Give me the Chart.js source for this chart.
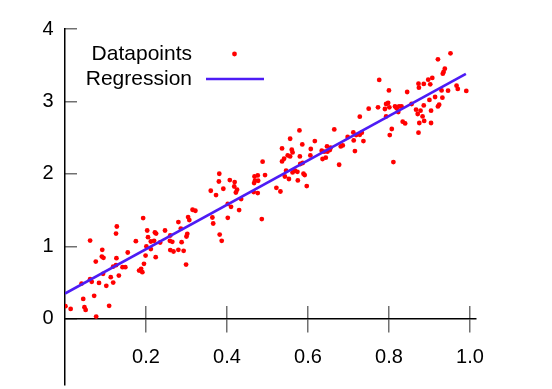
<!DOCTYPE html>
<html>
<head>
<meta charset="utf-8">
<script src="https://cdn.jsdelivr.net/npm/chart.js@4"></script>
<style>
  body { margin: 0; background: #fff; }
  canvas { display: block; }
</style>
</head>
<body>
<canvas id="grafico" width="552" height="389"></canvas>
<script>
// valores
const puntosX = [
  0.193, 0.128, 0.126, 0.062, 0.280, 0.203, 0.222, 0.225, 0.247, 0.260,
  0.205, 0.212, 0.220, 0.175, 0.259, 0.265, 0.235, 0.092, 0.091, 0.095,
  0.155, 0.127, 0.076, 0.201, 0.212, 0.224, 0.260, 0.268, 0.280, 0.199,
  0.195, 0.183, 0.188, 0.191, 0.119, 0.126, 0.142, 0.149, 0.094, 0.133,
  0.113, 0.062, 0.066, 0.041, 0.084, 0.119, 0.102, 0.072, 0.045, 0.109,
  0.001, 0.014, 0.048, 0.051, 0.077,
  0.579, 0.556, 0.536, 0.560, 0.562, 0.550, 0.556, 0.580, 0.541, 0.536,
  0.488, 0.546, 0.568, 0.562, 0.574, 0.543, 0.553, 0.575, 0.381, 0.380,
  0.407, 0.419, 0.418, 0.425, 0.422, 0.435, 0.391, 0.360, 0.373, 0.468,
  0.476, 0.469, 0.477, 0.494, 0.467, 0.466, 0.476, 0.522, 0.532, 0.315,
  0.322, 0.304, 0.307, 0.364, 0.366, 0.402, 0.410, 0.430, 0.402, 0.486,
  0.382, 0.387, 0.302, 0.300, 0.288, 0.293, 0.299, 0.286,
  0.776, 0.800, 0.793, 0.798, 0.801, 0.790, 0.815, 0.819, 0.825, 0.823,
  0.750, 0.773, 0.793, 0.728, 0.665, 0.617, 0.586, 0.712, 0.719, 0.728,
  0.733, 0.698, 0.713, 0.737, 0.681, 0.686, 0.647, 0.656, 0.654, 0.648,
  0.634, 0.640, 0.607, 0.606, 0.716, 0.644, 0.636, 0.677, 0.587, 0.581,
  0.811, 0.589, 0.592, 0.597, 0.807, 0.802,
  0.952, 0.921, 0.938, 0.935, 0.933, 0.907, 0.897, 0.873, 0.886, 0.902,
  0.874, 0.845, 0.967, 0.970, 0.930, 0.946, 0.991, 0.914, 0.932, 0.900,
  0.886, 0.924, 0.921, 0.856, 0.831, 0.867, 0.878, 0.871, 0.904, 0.883,
  0.887, 0.834, 0.840, 0.875, 0.904, 0.873
];
const puntosY = [
  1.391, 1.275, 1.178, 1.081, 1.336, 1.220, 1.192, 1.178, 1.220, 1.151,
  1.128, 1.068, 1.077, 1.073, 1.077, 1.064, 1.054, 0.953, 0.860, 0.843,
  0.916, 0.838, 0.791, 0.999, 0.963, 0.852, 0.949, 0.930, 0.953, 0.874,
  0.760, 0.667, 0.691, 0.645, 0.722, 0.742, 0.714, 0.714, 0.622, 0.598,
  0.576, 0.548, 0.511, 0.488, 0.497, 0.501, 0.456, 0.318, 0.276, 0.180,
  0.175, 0.138, 0.162, 0.124, 0.032,
  2.601, 2.486, 2.352, 2.334, 2.297, 2.256, 2.242, 2.242, 2.210, 2.173,
  2.169, 2.044, 2.044, 2.021, 2.030, 1.965, 1.930, 1.910, 2.003, 1.896,
  1.916, 1.888, 1.827, 1.782, 1.744, 1.653, 1.796, 1.768, 1.709, 1.965,
  1.979, 1.906, 1.906, 1.985, 1.874, 1.750, 1.736, 1.809, 1.758, 1.506,
  1.492, 1.405, 1.363, 1.399, 1.316, 1.588, 1.547, 1.501, 1.395, 1.377,
  1.164, 1.077, 1.174, 1.137, 1.059, 0.939, 0.750, 1.247,
  3.297, 3.153, 2.965, 2.979, 2.919, 2.896, 2.932, 2.905, 2.932, 2.855,
  2.901, 2.919, 2.794, 2.790, 2.615, 2.454, 2.407, 2.573, 2.537, 2.541,
  2.569, 2.510, 2.463, 2.454, 2.380, 2.394, 2.380, 2.362, 2.330, 2.307,
  2.320, 2.307, 2.344, 2.256, 2.316, 2.224, 2.206, 2.127, 2.151, 2.137,
  2.164, 2.003, 1.985, 1.833, 2.620, 2.537,
  3.664, 3.581, 3.453, 3.407, 3.384, 3.325, 3.301, 3.246, 3.242, 3.236,
  3.191, 3.131, 3.218, 3.173, 3.153, 3.149, 3.145, 3.062, 3.052, 3.021,
  2.946, 2.956, 2.932, 2.965, 2.932, 2.887, 2.873, 2.827, 2.873, 2.794,
  2.731, 2.721, 2.697, 2.703, 2.703, 2.569
];
const regresionX = [0, 0.99];
const regresionY = [0.35, 3.38];
const ticksX = [0.2, 0.4, 0.6, 0.8, 1.0];
const ticksY = [0, 1, 2, 3, 4];
const etiquetas = ['Datapoints', 'Regression'];

const rojo = '#ff0000';
const azul = '#4d1cf5';
const fuente = { family: "'Liberation Sans', Arial, sans-serif", size: 20 };

// leyenda a mano: texto alineado a la derecha y muestra a su derecha
const leyenda = {
  id: 'leyenda',
  afterDraw(chart) {
    const c = chart.ctx;
    c.save();
    c.font = "21px 'Liberation Sans', Arial, sans-serif";
    c.fillStyle = '#000';
    c.textAlign = 'right';
    c.textBaseline = 'middle';
    c.fillText(etiquetas[0], 192, 54);
    c.fillText(etiquetas[1], 192, 79);
    c.fillStyle = chart.data.datasets[0].backgroundColor;
    c.beginPath();
    c.arc(234.5, 54, 2.4, 0, Math.PI * 2);
    c.fill();
    c.strokeStyle = chart.data.datasets[1].borderColor;
    c.lineWidth = 2.5;
    c.beginPath();
    c.moveTo(206, 79);
    c.lineTo(264, 79);
    c.stroke();
    c.restore();
  }
};

function sinRelleno(s) {
  s.paddingLeft = 0; s.paddingRight = 0;
  s.paddingTop = 0; s.paddingBottom = 0;
}

const ctx = document.getElementById('grafico').getContext('2d');
const grafico = new Chart(ctx, {
  type: 'scatter',
  data: {
    datasets: [{
      label: etiquetas[0],
      data: puntosX.map((x, i) => ({ x, y: puntosY[i] })),
      backgroundColor: rojo,
      borderWidth: 0,
      pointRadius: 2.4,
      order: 2
    }, {
      label: etiquetas[1],
      type: 'line',
      data: regresionX.map((x, i) => ({ x, y: regresionY[i] })),
      borderColor: azul,
      borderWidth: 2.6,
      pointRadius: 0,
      fill: false,
      order: 1
    }]
  },
  options: {
    responsive: false,
    animation: false,
    devicePixelRatio: 1,
    layout: { padding: { left: 0, top: 29, right: 76, bottom: 4 } },
    plugins: { legend: { display: false }, tooltip: { enabled: false } },
    scales: {
      x: {
        type: 'linear',
        position: { y: 0 },
        min: 0,
        max: 1.015,
        afterBuildTicks: s => { s.ticks = ticksX.map(v => ({ value: v })); },
        afterFit: sinRelleno,
        grid: { drawOnChartArea: false, tickLength: 13, color: '#707070', lineWidth: 1.5 },
        border: { display: true, color: '#000', width: 1.5 },
        ticks: {
          font: fuente, color: '#000', padding: 14, maxRotation: 0,
          callback: v => v.toFixed(1)
        }
      },
      x2: {
        type: 'linear',
        position: { y: 0 },
        min: 0,
        max: 1.015,
        afterBuildTicks: s => { s.ticks = ticksX.map(v => ({ value: v })); },
        afterFit: sinRelleno,
        grid: { drawOnChartArea: false, tickLength: -13, color: '#707070', lineWidth: 1.5 },
        border: { display: false },
        ticks: { display: false }
      },
      y: {
        type: 'linear',
        position: 'left',
        min: -0.912,
        max: 4,
        afterBuildTicks: s => { s.ticks = ticksY.map(v => ({ value: v })); },
        afterFit: s => { sinRelleno(s); s.width = 65; },
        grid: { drawOnChartArea: false, tickLength: -12, color: '#707070', lineWidth: 1.5 },
        border: { display: true, color: '#000', width: 1.5 },
        ticks: { font: fuente, color: '#000', padding: 23.5 }
      }
    }
  },
  plugins: [leyenda]
});
</script>
</body>
</html>
